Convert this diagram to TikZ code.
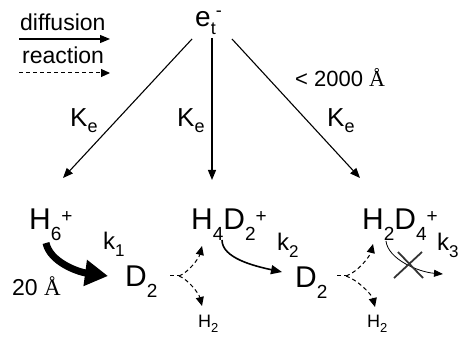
\documentclass[tikz,border=0pt]{standalone}
\usepackage{fontspec}
\setmainfont{Liberation Sans}
\newfontfamily\seriffont{Liberation Serif}
\usetikzlibrary{arrows.meta,calc}
\newcommand{\fs}[1]{\fontsize{#1}{#1}\selectfont}
\newcommand{\bigsub}[1]{\raisebox{-11pt}{\fs{19}#1}}
\newcommand{\bigsup}[1]{\raisebox{8pt}{\fs{19}#1}}
\newcommand{\ksub}[1]{\raisebox{-7pt}{\fs{17}#1}}
\newcommand{\smsub}[1]{\raisebox{-5pt}{\fs{13}#1}}
\newcommand{\ang}{{\seriffont Å}}
\begin{document}
\begin{tikzpicture}[x=1pt,y=-1pt,
  lbl/.style={inner sep=0pt,anchor=base west},
  species/.style={lbl,font=\fs{30}},
  small/.style={lbl,font=\fs{18}},
  rate/.style={lbl,font=\fs{24}},
  arr/.style={line width=1.1pt,-{Triangle[length=10pt,width=8pt]}},
  rarr/.style={line width=1pt,dash pattern=on 4pt off 3pt,-{Triangle[length=9pt,width=8pt]}},
]
\useasboundingbox (0,0) rectangle (459,337);
% legend
\node[lbl,font=\fs{23}] (leg1) at (20,31) {diffusion};
\node[lbl,font=\fs{23}] (leg2) at (22,64) {reaction};
\coordinate (l1s) at (19,39); \coordinate (l1e) at (110,39);
\coordinate (l2s) at (19,73); \coordinate (l2e) at (110,73);
\draw[arr] (l1s) -- (l1e);
\draw[rarr] (l2s) -- (l2e);
% top
\node[lbl,font=\fs{28}] (et) at (195,27) {e\raisebox{-8pt}{\fs{18}t}\raisebox{10pt}{\fs{18}-}};
\node[lbl,font=\fs{22}] (dist) at (295,87) {< 2000 \ang};
\node[lbl,font=\fs{26}] (ke1) at (70,127) {K\raisebox{-6pt}{\fs{18}e}};
\node[lbl,font=\fs{26}] (ke2) at (177,127) {K\raisebox{-6pt}{\fs{18}e}};
\node[lbl,font=\fs{26}] (ke3) at (327,127) {K\raisebox{-6pt}{\fs{18}e}};
% species
\node[species] (h6) at (29,230) {H\bigsub{6}\bigsup{+}};
\node[species] (h4d2) at (191,230) {H\bigsub{4}D\bigsub{2}\bigsup{+}};
\node[species] (h2d4) at (362,230) {H\bigsub{2}D\bigsub{4}\bigsup{+}};
\node[species] (d2a) at (125,287) {D\bigsub{2}};
\node[species] (d2b) at (295,288) {D\bigsub{2}};
\node[small] (h2a) at (198,328) {H\smsub{2}};
\node[small] (h2b) at (367,328) {H\smsub{2}};
\node[rate] (k1) at (103,250) {k\ksub{1}};
\node[rate] (k2) at (277,251) {k\ksub{2}};
\node[rate] (k3) at (437,251) {k\ksub{3}};
\node[lbl,font=\fs{23}] (a20) at (12,295) {20 \ang};
% diffusion arrows from e_t
\draw[arr] ([shift={(-3,12)}]et.base west) -- ([shift={(34,-52)}]h6.base west);
\draw[arr] ([shift={(17,11)}]et.base west) -- ([shift={(21,-50)}]h4d2.base west);
\draw[arr] ([shift={(37,12)}]et.base west) -- ([shift={(-2,-52)}]h2d4.base west);
% k1 thick arrow
\draw[line width=7pt,-{Triangle[length=23pt,width=25pt]}]
  ([shift={(17,13)}]h6.base west) .. controls +(4,19) and +(-30,-4) .. ([shift={(-17,-11)}]d2a.base west);
% k2 arrow
\draw[line width=1.6pt,-{Triangle[length=11pt,width=9pt]}]
  ([shift={(31,10)}]h4d2.base west) .. controls +(0,18) and +(-28,-6) .. ([shift={(-13,-16)}]d2b.base west);
% k3 blocked arrow
\coordinate (k3end) at (443,274);
\draw[line width=0.8pt,-{Triangle[length=9pt,width=7pt]}]
  ([shift={(24,11)}]h2d4.base west) .. controls +(2,18) and +(-25,-2) .. (k3end);
\draw[line width=1.8pt,black!80] (394,278) -- (422,252) (398,252) -- (423,278);
% reaction branches 1
\coordinate (b1) at ([shift={(54,-11)}]d2a.base west);
\draw[line width=1pt,dash pattern=on 4pt off 3pt] ([shift={(45,-11)}]d2a.base west) -- (b1);
\draw[rarr] (b1) .. controls +(10,-4) and +(-3,12) .. ([shift={(11,16)}]h4d2.base west);
\draw[rarr] (b1) .. controls +(10,4) and +(-3,-12) .. ([shift={(4,-22)}]h2a.base west);
% reaction branches 2
\coordinate (b2) at ([shift={(51,-12)}]d2b.base west);
\draw[line width=1pt,dash pattern=on 4pt off 3pt] ([shift={(42,-12)}]d2b.base west) -- (b2);
\draw[rarr] (b2) .. controls +(12,-4) and +(-3,12) .. ([shift={(11,14)}]h2d4.base west);
\draw[rarr] (b2) .. controls +(12,4) and +(-3,-12) .. ([shift={(8,-21)}]h2b.base west);
\end{tikzpicture}
\end{document}
